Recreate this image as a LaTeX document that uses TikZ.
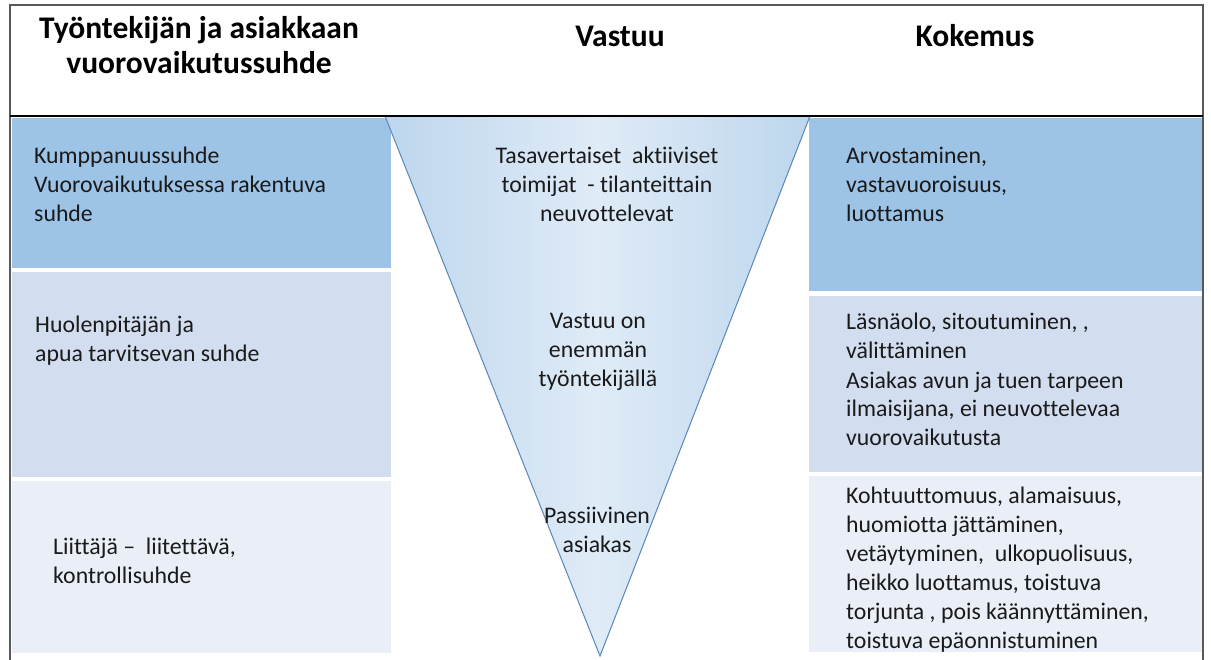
\documentclass[tikz,border=0pt]{standalone}
\usepackage{fontspec}
\setmainfont[Ligatures=NoCommon]{Carlito}
\usepackage{xcolor}
\usepackage{tikz}
\usetikzlibrary{positioning}

\definecolor{boxdark}{HTML}{9DC3E6}
\definecolor{boxmid}{HTML}{D2DEEF}
\definecolor{boxlight}{HTML}{E9EEF7}
\definecolor{triedge}{HTML}{5A88B6}
\definecolor{trifill}{HTML}{BDD6ED}
\definecolor{trilight}{HTML}{DFEBF7}
\definecolor{textdark}{HTML}{1A1A1A}

\begin{document}
\begin{tikzpicture}[x=1pt, y=-1pt,
    box/.style={rectangle, anchor=north west, inner sep=0pt, draw=white, line width=1pt},
    head/.style={font=\fontsize{31.5}{35}\selectfont\bfseries, align=center, anchor=base, inner sep=0pt},
    body/.style={font=\fontsize{23.8}{29}\selectfont, align=left, anchor=base west, inner sep=0pt, text=textdark},
    midtext/.style={body, align=center, anchor=base},
    frame/.style={draw=gray!70!black, line width=1.8pt}
]
\useasboundingbox (0,0) rectangle (1211,660);

% Left column: kinds of relationship
\node[box, fill=boxdark, minimum width=380pt, minimum height=151pt] (partner) at (11,117) {};
\node[box, fill=boxmid, minimum width=380pt, minimum height=206pt] (carer) at (11,271) {};
\node[box, fill=boxlight, minimum width=380pt, minimum height=173pt] (control) at (11,480) {};

% Right column: experience
\node[box, fill=boxdark, minimum width=395pt, minimum height=174pt] (respect) at (808,117) {};
\node[box, fill=boxmid, minimum width=395pt, minimum height=177pt] (presence) at (808,295) {};
\node[box, fill=boxlight, minimum width=395pt, minimum height=177pt] (neglect) at (808,475) {};

% Middle: responsibility funnel
\coordinate (tl) at (385,116);
\coordinate (tr) at (810,116);
\coordinate (apex) at (600,656);
\shade[left color=trifill, right color=trifill, middle color=trilight] (tl) -- (tr) -- (apex) -- cycle;
\draw[triedge, line width=1pt] (tl) -- (apex) -- (tr);

% Frame and header rule
\draw[frame] (10,660) -- (10,5) -- (1203,5) -- (1203,660);
\draw[black, line width=1.8pt] (10,116) -- (1203,116);

% Header texts (anchored at the last line's baseline)
\node[head] (hrel) at (199,74) {Työntekijän ja asiakkaan\\vuorovaikutussuhde};
\node[head] (hresp) at (620,47) {Vastuu};
\node[head] (hexp) at (975,47) {Kokemus};

% Left texts
\node[body] (tpartner) at (34,222) {Kumppanuussuhde\\Vuorovaikutuksessa rakentuva\\suhde};
\node[body] (tcarer) at (35,362) {Huolenpitäjän ja\\apua tarvitsevan suhde};
\node[body] (tcontrol) at (53,583) {Liittäjä –~ liitettävä,\\kontrollisuhde};

% Funnel texts
\node[midtext] (tequal) at (607,222) {Tasavertaiset~ aktiiviset\\toimijat~ - tilanteittain\\neuvottelevat};
\node[midtext] (tworker) at (598,387) {Vastuu on\\enemmän\\työntekijällä};
\node[midtext] (tpassive) at (597,552) {Passiivinen\\asiakas};

% Right texts
\node[body] (trespect) at (846,222) {Arvostaminen,\\vastavuoroisuus,\\luottamus};
\node[body] (tpresence) at (846,446) {Läsnäolo, sitoutuminen, ,\\välittäminen\\Asiakas avun ja tuen tarpeen\\ilmaisijana, ei neuvottelevaa\\vuorovaikutusta};
\node[body] (tneglect) at (846,648) {Kohtuuttomuus, alamaisuus,\\huomiotta jättäminen,\\vetäytyminen,~ ulkopuolisuus,\\heikko luottamus, toistuva\\torjunta , pois käännyttäminen,\\toistuva epäonnistuminen};
\end{tikzpicture}
\end{document}
